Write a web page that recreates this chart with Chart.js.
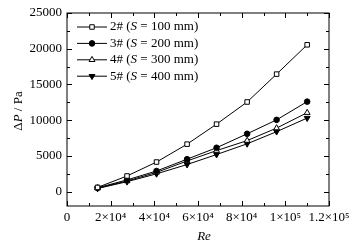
<html>
  <head>
    <script src="https://cdn.jsdelivr.net/npm/chart.js@4.4.0/dist/chart.umd.min.js"></script>
    <title>dp_re</title>
    <style>
      body { margin: 0; background: #fff; }
      #wrap { position: relative; width: 359px; height: 247px; }
    </style>
  </head>
  <body>
    <div id="wrap"><canvas id="myChart" width="359" height="247"></canvas></div>
    <script>
      // Re values (shared by all series)
      const reVals = [14000, 27500, 41000, 55000, 68500, 82500, 96000, 110000];
      // pressure drop, Pa
      const dp2 = [600, 2200, 4150, 6650, 9450, 12550, 16450, 20550];
      const dp3 = [550, 1650, 2900, 4550, 6150, 8100, 10050, 12600];
      const dp4 = [500, 1500, 2700, 4300, 5750, 7150, 8900, 11050];
      const dp5 = [450, 1400, 2500, 3800, 5200, 6700, 8400, 10300];
      const seriesNames = ['2#', '3#', '4#', '5#'];
      const spacings = ['100', '200', '300', '400'];
      const yTickVals = [0, 5000, 10000, 15000, 20000, 25000];
      const xTickText = {0: '0', 20000: '2×10⁴', 40000: '4×10⁴', 60000: '6×10⁴', 80000: '8×10⁴', 100000: '1×10⁵', 120000: '1.2×10⁵'};

      const serif = "'Liberation Serif', 'Times New Roman', serif";
      const styles = [
        {pointStyle: 'rect', radius: 3.2, fill: '#fff', rot: 0},
        {pointStyle: 'circle', radius: 2.8, fill: '#000', rot: 0},
        {pointStyle: 'triangle', radius: 3.4, fill: '#fff', rot: 0},
        {pointStyle: 'triangle', radius: 3.4, fill: '#000', rot: 180}
      ];
      const allData = [dp2, dp3, dp4, dp5];

      const datasets = allData.map((d, i) => ({
        label: seriesNames[i],
        data: d.map((v, j) => ({x: reVals[j], y: v})),
        borderColor: '#000',
        borderWidth: 1,
        backgroundColor: styles[i].fill,
        pointStyle: styles[i].pointStyle,
        pointRadius: styles[i].radius,
        pointRotation: styles[i].rot,
        pointBorderWidth: 1,
        pointBackgroundColor: styles[i].fill,
        pointBorderColor: '#000',
        tension: 0
      }));

      // frame, inward ticks, legend and axis titles
      const decor = {
        id: 'decor',
        afterDraw(chart) {
          const c = chart.ctx;
          const a = chart.chartArea;
          const xs = chart.scales.x, ys = chart.scales.y;
          c.save();
          c.strokeStyle = '#000';
          c.lineWidth = 1;
          c.strokeRect(a.left, a.top, a.right - a.left, a.bottom - a.top);
          c.beginPath();
          for (let v = 0; v <= 120000; v += 10000) {
            const px = Math.round(xs.getPixelForValue(v)) + 0.5;
            const len = v % 20000 === 0 ? 5 : 3;
            c.moveTo(px, a.bottom); c.lineTo(px, a.bottom - len);
            c.moveTo(px, a.top); c.lineTo(px, a.top + len);
          }
          for (let v = 0; v <= 25000; v += 2500) {
            const py = Math.round(ys.getPixelForValue(v)) + 0.5;
            const len = v % 5000 === 0 ? 5 : 3;
            c.moveTo(a.left, py); c.lineTo(a.left + len, py);
            c.moveTo(a.right, py); c.lineTo(a.right - len, py);
          }
          c.stroke();

          // legend
          c.fillStyle = '#000';
          c.textBaseline = 'middle';
          for (let i = 0; i < 4; i++) {
            const y = 27 + i * 16.4;
            c.beginPath();
            c.moveTo(77, y); c.lineTo(107, y);
            c.stroke();
            c.fillStyle = styles[i].fill;
            c.strokeStyle = '#000';
            Chart.helpers.drawPoint(c, {pointStyle: styles[i].pointStyle, radius: styles[i].radius, rotation: styles[i].rot, borderWidth: 1}, 92, y);
            c.fillStyle = '#000';
            let x = 110;
            const parts = [[seriesNames[i] + ' (', ''], ['S', 'italic '], [' = ' + spacings[i] + ' mm)', '']];
            parts.forEach(p => {
              c.font = p[1] + '13px ' + serif;
              c.fillText(p[0], x, y);
              x += c.measureText(p[0]).width;
            });
          }

          // x title
          c.font = 'italic 13px ' + serif;
          c.textAlign = 'center';
          c.fillText('Re', 204, 237);

          // y title
          c.translate(19, 111);
          c.rotate(-Math.PI / 2);
          const yparts = [['Δ', ''], ['P', 'italic '], [' / Pa', '']];
          let w = 0;
          yparts.forEach(p => { c.font = p[1] + '13px ' + serif; w += c.measureText(p[0]).width; });
          let x = -w / 2;
          c.textAlign = 'left';
          yparts.forEach(p => {
            c.font = p[1] + '13px ' + serif;
            c.fillText(p[0], x, 0);
            x += c.measureText(p[0]).width;
          });
          c.restore();
        }
      };

      new Chart(document.getElementById('myChart'), {
        type: 'line',
        data: {datasets: datasets},
        options: {
          responsive: false,
          animation: false,
          layout: {padding: {top: 13, right: 30, left: 0, bottom: 0}},
          plugins: {legend: {display: false}, tooltip: {enabled: false}},
          scales: {
            x: {
              type: 'linear',
              min: 0, max: 120000,
              grid: {display: false, drawTicks: false},
              border: {display: false},
              afterFit: s => { s.height = 41; },
              ticks: {
                stepSize: 20000,
                padding: 4,
                color: '#000',
                font: {family: serif, size: 13},
                maxRotation: 0,
                autoSkip: false,
                callback: v => xTickText[v] !== undefined ? xTickText[v] : ''
              }
            },
            y: {
              min: -2000, max: 25000,
              grid: {display: false, drawTicks: false},
              border: {display: false},
              afterFit: s => { s.width = 67; },
              afterBuildTicks: s => { s.ticks = yTickVals.map(v => ({value: v})); },
              ticks: {
                padding: 5,
                color: '#000',
                autoSkip: false,
                font: {family: serif, size: 13},
                callback: v => String(v)
              }
            }
          }
        },
        plugins: [decor]
      });
    </script>
  </body>
</html>
